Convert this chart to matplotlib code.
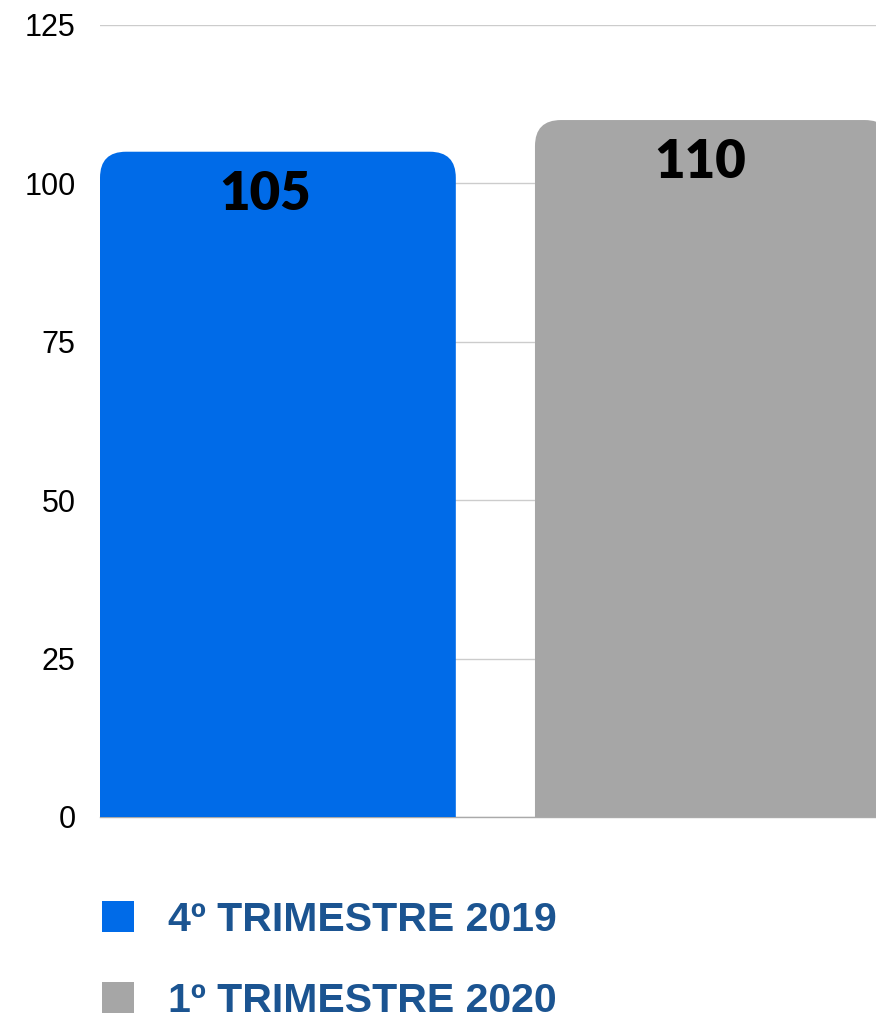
import matplotlib
matplotlib.use("Agg")
import matplotlib.pyplot as plt
from matplotlib.patches import FancyBboxPatch, Patch

categories = ["4º TRIMESTRE 2019", "1º TRIMESTRE 2020"]
values = [105, 110]
colors = ["#006BE8", "#A6A6A6"]
yticks = [0, 25, 50, 75, 100, 125]

W, H = 876, 1019
fig = plt.figure(figsize=(W / 100, H / 100), dpi=100)
ax = fig.add_axes([100 / W, 1 - 817 / H, 1 - 100 / W, (817 - 25) / H])

x = list(range(len(values)))
bars = ax.bar(x, values, width=0.818, color=colors, zorder=2)

ax.set_ylim(0, 125)
ax.set_xlim(-0.409, 1.375)

# replace bars by rounded-top versions
r_px = 26.0
ax_w_px = (1 - 100 / W) * W
ax_h_px = (817 - 25)
xr = r_px * (1.375 + 0.409) / ax_w_px
yr = r_px * 125 / ax_h_px
for b in bars:
    b.set_visible(False)
    p = FancyBboxPatch((b.get_x(), -yr), b.get_width(), b.get_height() + yr,
                       boxstyle=f"round,pad=0,rounding_size={xr}",
                       mutation_aspect=yr / xr, facecolor=b.get_facecolor(),
                       edgecolor="none", zorder=2)
    ax.add_patch(p)

for xi, v in zip(x, values):
    ax.text(xi - 0.03, v - 2.9, str(v), ha="center", va="top",
            fontsize=38, fontweight="heavy", family=["Lato", "DejaVu Sans"],
            color="black", zorder=3)

ax.set_yticks(yticks)
ax.set_yticklabels([str(t) for t in yticks], fontsize=22,
                   family=["Liberation Sans", "DejaVu Sans"])
ax.tick_params(axis="y", length=0, pad=17.5)
ax.set_xticks([])
ax.yaxis.grid(True, color="#cccccc", linewidth=1)
ax.set_axisbelow(True)
for s in ["top", "right", "left"]:
    ax.spines[s].set_visible(False)
ax.spines["bottom"].set_color("#aaaaaa")
ax.spines["bottom"].set_linewidth(1)
ax.spines["bottom"].set_zorder(1)

handles = [Patch(facecolor=c, edgecolor="none") for c in colors]
fs = 29.5
em = fs * 100 / 72
fig.legend(handles, categories, loc="upper left",
           bbox_to_anchor=(102 / W, 1 - 901 / H), frameon=False,
           borderpad=0, borderaxespad=0,
           handlelength=32 / em, handleheight=32 / em, handletextpad=34 / em,
           labelspacing=1.05,
           prop={"family": "Liberation Sans", "weight": "bold", "size": fs},
           labelcolor="#1B5491")

fig.savefig("out.png", dpi=100)
